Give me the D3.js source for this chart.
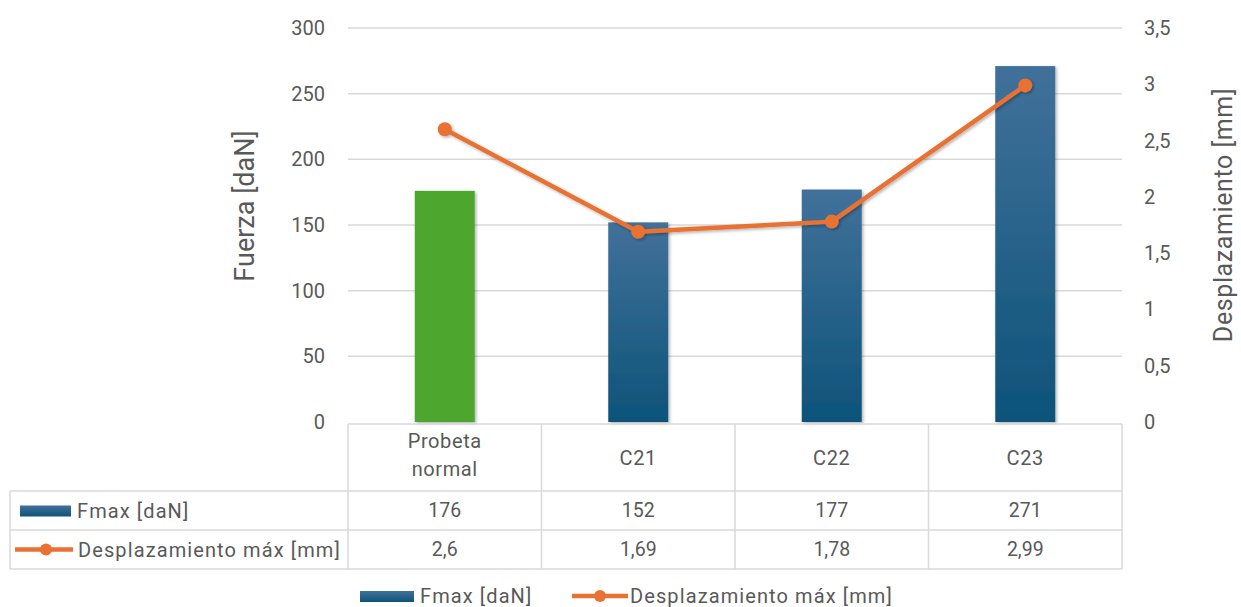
<!DOCTYPE html>
<html>
<head>
<meta charset="utf-8">
<script src="https://cdn.jsdelivr.net/npm/d3@7"></script>
<style>
  body { margin: 0; background: #fff; }
  svg { display: block; font-family: Roboto, "Noto Sans", sans-serif; }
</style>
</head>
<body>
<svg id="chart" width="1241" height="607"></svg>
<script>
const categories = ["Probeta normal", "C21", "C22", "C23"];
const fmaxValues = [176, 152, 177, 271];
const despValues = [2.6, 1.69, 1.78, 2.99];
const fmaxLabels = ["176", "152", "177", "271"];
const despLabels = ["2,6", "1,69", "1,78", "2,99"];
const leftTicks = [0, 50, 100, 150, 200, 250, 300];
const rightTicks = [0, 0.5, 1, 1.5, 2, 2.5, 3, 3.5];
const seriesNames = ["Fmax [daN]", "Desplazamiento máx [mm]"];

const svg = d3.select("#chart");
const textColor = "#595959";
const gridColor = "#d9d9d9";
const orange = "#e97132";
const green = "#4ea72e";

const plot = { left: 348, right: 1122, top: 28, bottom: 422 };
const tableLeft = 10;
const rows = [424, 491, 530, 569];

const x = d3.scaleBand().domain(categories).range([plot.left, plot.right]);
const yL = d3.scaleLinear().domain([0, 300]).range([plot.bottom, plot.top]);
const yR = d3.scaleLinear().domain([0, 3.5]).range([plot.bottom, plot.top]);
const fmtR = d => d3.format("")(d).replace(".", ",");

const defs = svg.append("defs");
const grad = defs.append("linearGradient").attr("id", "barGrad")
  .attr("x1", 0).attr("y1", 0).attr("x2", 0).attr("y2", 1);
grad.append("stop").attr("offset", "0%").attr("stop-color", "#41719a");
grad.append("stop").attr("offset", "100%").attr("stop-color", "#0d5379");
const sh = defs.append("filter").attr("id", "shadow")
  .attr("x", "-20%").attr("y", "-20%").attr("width", "140%").attr("height", "140%");
sh.append("feDropShadow").attr("dx", 1.5).attr("dy", 1.5).attr("stdDeviation", 1.5)
  .attr("flood-color", "#000").attr("flood-opacity", 0.3);

// gridlines
svg.append("g").selectAll("line").data(leftTicks.filter(d => d > 0)).join("line")
  .attr("x1", plot.left).attr("x2", plot.right)
  .attr("y1", d => yL(d)).attr("y2", d => yL(d))
  .attr("stroke", gridColor).attr("stroke-width", 1.5);

// left axis labels
svg.append("g").selectAll("text").data(leftTicks).join("text")
  .attr("x", 325).attr("y", d => yL(d)).attr("dy", "0.35em")
  .attr("text-anchor", "end").attr("fill", textColor).attr("font-size", 20)
  .text(d => d);

// right axis labels
svg.append("g").selectAll("text").data(rightTicks).join("text")
  .attr("x", 1144).attr("y", d => yR(d)).attr("dy", "0.35em")
  .attr("text-anchor", "start").attr("fill", textColor).attr("font-size", 20)
  .text(d => fmtR(d));

// axis titles
svg.append("text").attr("transform", `translate(254,206) rotate(-90)`)
  .attr("text-anchor", "middle").attr("fill", textColor).attr("font-size", 27)
  .text("Fuerza [daN]");
svg.append("text").attr("transform", `translate(1232,215) rotate(-90)`)
  .attr("text-anchor", "middle").attr("fill", textColor).attr("font-size", 25)
  .attr("letter-spacing", 0.6)
  .text("Desplazamiento [mm]");

// bars
const bw = x.bandwidth() * 0.31;
svg.append("g").selectAll("rect").data(categories).join("rect")
  .attr("x", d => x(d) + x.bandwidth() / 2 - bw / 2)
  .attr("width", bw)
  .attr("y", (d, i) => yL(fmaxValues[i]))
  .attr("height", (d, i) => yL(0) - yL(fmaxValues[i]))
  .attr("fill", (d, i) => i === 0 ? green : "url(#barGrad)")
  .attr("filter", "url(#shadow)");

// line
const pts = categories.map((c, i) => [x(c) + x.bandwidth() / 2, yR(despValues[i])]);
const lg = svg.append("g").attr("filter", "url(#shadow)");
lg.append("path").attr("d", d3.line()(pts)).attr("fill", "none")
  .attr("stroke", orange).attr("stroke-width", 4.5).attr("stroke-linejoin", "round");
lg.selectAll("circle").data(pts).join("circle")
  .attr("cx", d => d[0]).attr("cy", d => d[1]).attr("r", 7).attr("fill", orange);

// data table
const tg = svg.append("g");
const bc = "#d9d9d9";
tg.append("line").attr("x1", plot.left).attr("x2", plot.right).attr("y1", rows[0]).attr("y2", rows[0]).attr("stroke", bc).attr("stroke-width", 1.5);
[rows[1], rows[2], rows[3]].forEach(yy => tg.append("line").attr("x1", tableLeft).attr("x2", plot.right).attr("y1", yy).attr("y2", yy).attr("stroke", bc).attr("stroke-width", 1.5));
const vx = categories.map(c => x(c)).concat([plot.right]);
vx.forEach(xx => tg.append("line").attr("x1", xx).attr("x2", xx).attr("y1", rows[0]).attr("y2", rows[3]).attr("stroke", bc).attr("stroke-width", 1.5));
tg.append("line").attr("x1", tableLeft).attr("x2", tableLeft).attr("y1", rows[1]).attr("y2", rows[3]).attr("stroke", bc).attr("stroke-width", 1.5);

// header
categories.forEach(c => {
  const cx = x(c) + x.bandwidth() / 2;
  const parts = c === "Probeta normal" ? ["Probeta", "normal"] : [c];
  const t = tg.append("text").attr("x", cx).attr("text-anchor", "middle").attr("fill", textColor)
    .attr("font-size", 20).attr("letter-spacing", 0.6);
  if (parts.length === 2) {
    t.append("tspan").attr("x", cx).attr("y", 441).attr("dy", "0.35em").text(parts[0]);
    t.append("tspan").attr("x", cx).attr("y", 469).attr("dy", "0.35em").text(parts[1]);
  } else {
    t.attr("y", (rows[0] + rows[1]) / 2).attr("dy", "0.35em").text(parts[0]);
  }
});
// values
[fmaxLabels, despLabels].forEach((labels, r) => {
  const cy = (rows[r + 1] + rows[r + 2]) / 2;
  tg.selectAll(null).data(categories).join("text")
    .attr("x", d => x(d) + x.bandwidth() / 2).attr("y", cy).attr("dy", "0.35em")
    .attr("text-anchor", "middle").attr("fill", textColor).attr("font-size", 19.5)
    .text((d, i) => labels[i]);
});
// row keys
const r1 = (rows[1] + rows[2]) / 2, r2 = (rows[2] + rows[3]) / 2;
tg.append("rect").attr("x", 20).attr("y", r1 - 5).attr("width", 51).attr("height", 11).attr("fill", "url(#barGrad)");
tg.append("text").attr("x", 77).attr("y", r1).attr("dy", "0.35em").attr("fill", textColor)
  .attr("font-size", 20).attr("letter-spacing", 1.1).text(seriesNames[0]);
tg.append("line").attr("x1", 15).attr("x2", 73).attr("y1", r2).attr("y2", r2).attr("stroke", orange).attr("stroke-width", 4.5);
tg.append("circle").attr("cx", 46).attr("cy", r2).attr("r", 6).attr("fill", orange);
tg.append("text").attr("x", 78).attr("y", r2).attr("dy", "0.35em").attr("fill", textColor)
  .attr("font-size", 20).attr("letter-spacing", 1.1).text(seriesNames[1]);

// bottom legend
const ly = 596;
svg.append("rect").attr("x", 360).attr("y", ly - 5).attr("width", 54).attr("height", 11).attr("fill", "url(#barGrad)");
svg.append("text").attr("x", 420).attr("y", ly).attr("dy", "0.35em").attr("fill", textColor)
  .attr("font-size", 20).attr("letter-spacing", 1.1).text(seriesNames[0]);
svg.append("line").attr("x1", 572).attr("x2", 628).attr("y1", ly).attr("y2", ly).attr("stroke", orange).attr("stroke-width", 4.5);
svg.append("circle").attr("cx", 600).attr("cy", ly).attr("r", 6).attr("fill", orange);
svg.append("text").attr("x", 630).attr("y", ly).attr("dy", "0.35em").attr("fill", textColor)
  .attr("font-size", 20).attr("letter-spacing", 1.1).text(seriesNames[1]);
</script>
</body>
</html>
